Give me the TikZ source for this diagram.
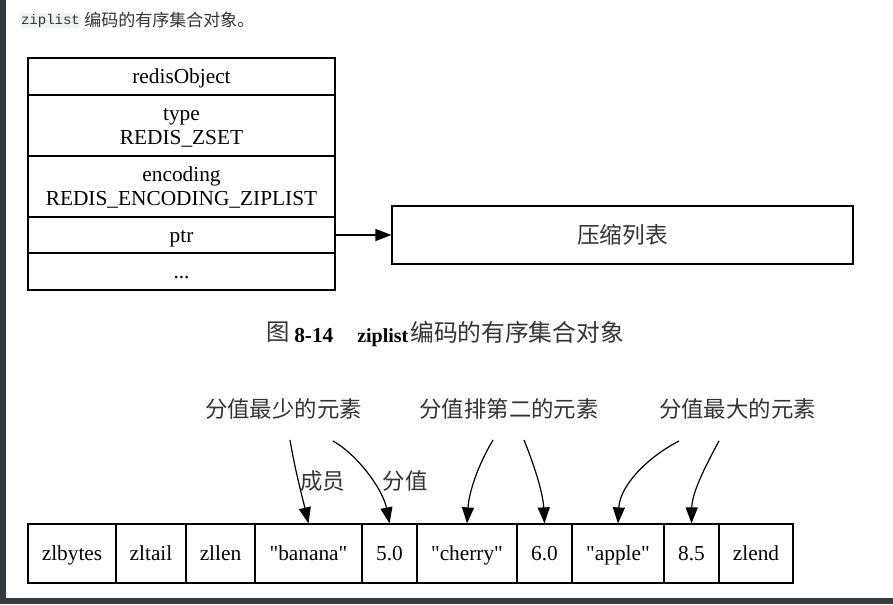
\documentclass[tikz,border=0pt]{standalone}
\usepackage{fontspec}
\setmainfont{Liberation Serif}
\setmonofont{Liberation Mono}
\newfontfamily\cjk{Noto Sans CJK SC}
\usetikzlibrary{arrows.meta}
\definecolor{darkbg}{HTML}{343A3E}
\definecolor{cjkgray}{HTML}{333333}
\definecolor{codebg}{HTML}{F1F2F2}
\begin{document}
\begin{tikzpicture}[x=0.75pt,y=-0.75pt,
  box/.style={draw, line width=0.9pt, inner sep=0pt, font=\fontsize{16}{18}\selectfont,
              text height=10.9pt, text depth=0pt, align=center},
  twoline/.style={text height=28.9pt},
  cjklab/.style={font=\cjk\fontsize{16.8}{18}\selectfont, text=cjkgray, inner sep=0pt},
  arr/.style={line width=0.9pt, -{Triangle[length=12pt,width=9pt]}},
]
\useasboundingbox (0,0) rectangle (893,604);
\fill[white] (0,0) rectangle (893,604);
\fill[darkbg] (0,0) rectangle (6,604);
\fill[darkbg] (0,598) rectangle (893,604);

% top line
\node[fill=codebg, inner sep=0pt, minimum width={59*0.75pt}, minimum height={15*0.75pt},
      font=\ttfamily\fontsize{10.5}{12}\selectfont, text=cjkgray] (code) at (50.5,20.5) {ziplist};
\node[anchor=west, inner sep=0pt, font=\cjk\fontsize{12.75}{14}\selectfont, text=cjkgray] (intro) at (84,20.5) {编码的有序集合对象。};

% redisObject table
\node[box, minimum width={307*0.75pt}, minimum height={37*0.75pt}] (ro) at (181.5,76.5) {redisObject};
\node[box, twoline, minimum width={307*0.75pt}, minimum height={61*0.75pt}] (ty) at (181.5,125.5) {type\\REDIS\_ZSET};
\node[box, twoline, minimum width={307*0.75pt}, minimum height={61*0.75pt}] (en) at (181.5,186.5) {encoding\\REDIS\_ENCODING\_ZIPLIST};
\node[box, minimum width={307*0.75pt}, minimum height={36*0.75pt}] (pt) at (181.5,235) {ptr};
\node[box, minimum width={307*0.75pt}, minimum height={37*0.75pt}] (dots) at (181.5,271.5) {...};

\node[draw, line width=0.9pt, inner sep=0pt, minimum width={461*0.75pt}, minimum height={58*0.75pt},
      font=\cjk\fontsize{17}{18}\selectfont, text=cjkgray] (zl) at (622.5,235) {压缩列表};
\draw[arr] (pt.east) -- (zl.west);

% caption
\node[anchor=west, inner sep=0pt, font=\cjk\fontsize{17.5}{18}\selectfont, text=cjkgray] (cap1) at (266,332.5) {图};
\node[anchor=base west, inner sep=0pt, font=\bfseries\fontsize{16}{16}\selectfont] (cap2) at (294,342) {8-14};
\node[anchor=base west, inner sep=0pt, font=\bfseries\fontsize{15}{16}\selectfont] (cap3) at (357,342) {ziplist};
\node[anchor=west, inner sep=0pt, font=\cjk\fontsize{17.8}{18}\selectfont, text=cjkgray] (cap4) at (410,332.5) {编码的有序集合对象};

% labels
\node[cjklab] (lab1) at (283.5,409) {分值最少的元素};
\node[cjklab] (lab2) at (509,409) {分值排第二的元素};
\node[cjklab] (lab3) at (737.5,409) {分值最大的元素};
\node[cjklab] (mem) at (322.5,481) {成员};
\node[cjklab] (sco) at (405,481) {分值};

% ziplist cells
\node[box, minimum width={88*0.75pt}, minimum height={59*0.75pt}] (zlbytes) at (72,553.5) {zlbytes};
\node[box, minimum width={70*0.75pt}, minimum height={59*0.75pt}] (zltail) at (151,553.5) {zltail};
\node[box, minimum width={69*0.75pt}, minimum height={59*0.75pt}] (zllen) at (220.5,553.5) {zllen};
\node[box, minimum width={107*0.75pt}, minimum height={59*0.75pt}] (banana) at (308.5,553.5) {\textquotedbl banana\textquotedbl};
\node[box, minimum width={55*0.75pt}, minimum height={59*0.75pt}] (five) at (389.5,553.5) {5.0};
\node[box, minimum width={100*0.75pt}, minimum height={59*0.75pt}] (cherry) at (467,553.5) {\textquotedbl cherry\textquotedbl};
\node[box, minimum width={55*0.75pt}, minimum height={59*0.75pt}] (six) at (544.5,553.5) {6.0};
\node[box, minimum width={92*0.75pt}, minimum height={59*0.75pt}] (apple) at (618,553.5) {\textquotedbl apple\textquotedbl};
\node[box, minimum width={55*0.75pt}, minimum height={59*0.75pt}] (eight) at (691.5,553.5) {8.5};
\node[box, minimum width={74*0.75pt}, minimum height={59*0.75pt}] (zlend) at (756,553.5) {zlend};

% arrows
\coordinate (s1) at (290,440);
\coordinate (s2) at (333,441);
\coordinate (s3) at (493,440);
\coordinate (s4) at (524,440);
\coordinate (s5) at (679,441);
\coordinate (s6) at (719,441);
\draw[arr] (s1) .. controls (295,470) and (303,500) .. (banana.north);
\draw[arr] (s2) .. controls (358,455) and (383,490) .. (five.north);
\draw[arr] (s3) .. controls (478,465) and (469,492) .. (cherry.north);
\draw[arr] (s4) .. controls (533,462) and (543,492) .. (six.north);
\draw[arr] (s5) .. controls (648,457) and (620,485) .. (apple.north);
\draw[arr] (s6) .. controls (706,465) and (692,492) .. (eight.north);
\end{tikzpicture}
\end{document}
